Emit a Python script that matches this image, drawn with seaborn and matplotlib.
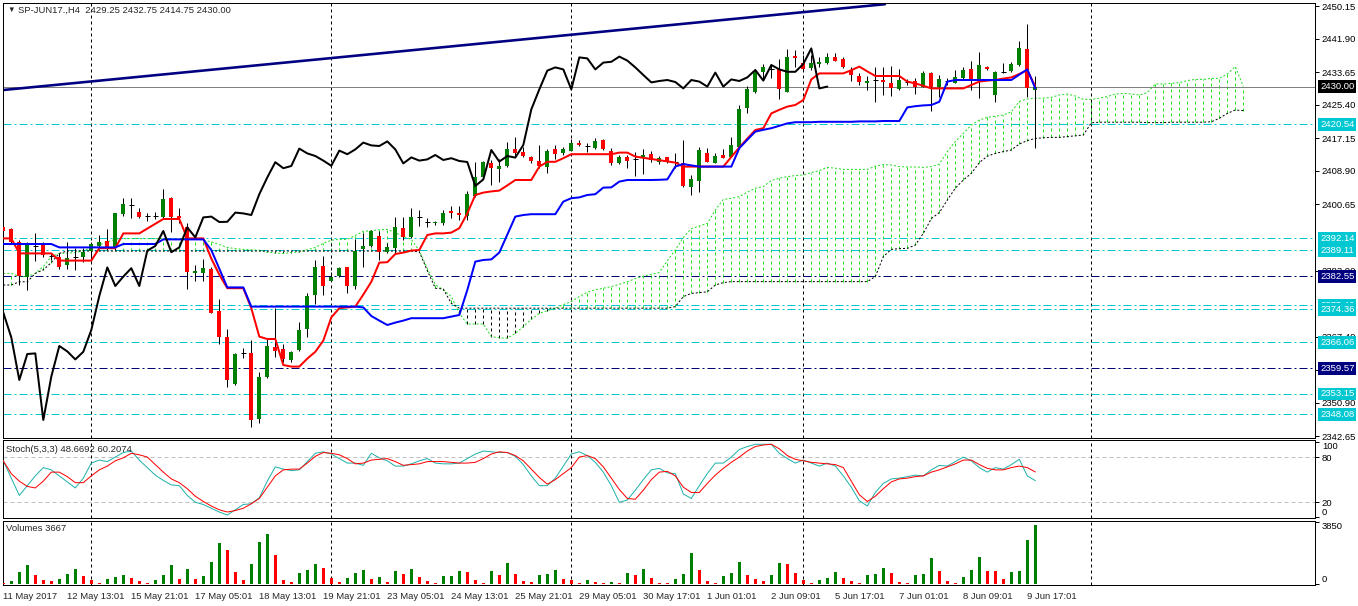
import numpy as np
import matplotlib
matplotlib.use("Agg")
import matplotlib.pyplot as plt
import seaborn as sns

sns.set_style("white")
plt.rcParams['font.family'] = ['Liberation Sans', 'DejaVu Sans']
plt.rcParams['font.size'] = 6.8

# ---- H4 candles, SP-JUN17 ----
opens = [2394.9, 2394.3, 2391.2, 2382.5, 2390.1, 2390.6, 2387.7, 2387.5, 2385.3, 2387.3,
         2387.5, 2388.8, 2390.2, 2391.4, 2389.6, 2398.1, 2400.3, 2398.7, 2397.65, 2397.7,
         2397.3, 2402.1, 2397.65, 2395.0, 2383.5, 2383.5, 2384.4, 2373.9, 2367.5, 2355.65,
         2363.3, 2363.5, 2346.8, 2357.3, 2364.8, 2364.3, 2361.65, 2364.15, 2369.3, 2377.9,
         2385.15, 2381.5, 2382.7, 2384.8, 2380.2, 2389.3, 2390.2, 2392.65, 2388.7, 2389.75,
         2394.6, 2392.5, 2397.5, 2396.15, 2395.8, 2396.0, 2398.8, 2398.5, 2397.65, 2402.65,
         2407.5, 2410.8, 2409.3, 2410.2, 2414.3, 2413.6, 2412.3, 2411.3, 2410.0, 2414.3,
         2413.3, 2414.0, 2415.8, 2415.15, 2414.7, 2416.6, 2414.0, 2411.0, 2412.5, 2411.8,
         2412.1, 2413.1, 2411.1, 2412.3, 2411.15, 2411.0, 2404.8, 2406.5, 2413.5, 2411.0,
         2412.9, 2412.5, 2415.0, 2424.55, 2428.75, 2433.7, 2434.3, 2434.3, 2428.75, 2437.65,
         2436.0, 2434.6, 2435.65, 2435.8, 2437.3, 2436.8, 2434.15, 2432.65, 2430.8, 2431.65,
         2431.65, 2431.0, 2429.3, 2431.25, 2431.5, 2430.0, 2433.3, 2430.0, 2431.4, 2431.0,
         2432.1, 2434.3, 2431.65, 2435.0, 2427.9, 2433.7, 2434.0, 2435.4, 2439.3, 2429.25]
highs = [2395.2, 2394.6, 2391.6, 2391.2, 2393.3, 2391.2, 2388.5, 2388.5, 2391.2, 2389.6,
         2389.7, 2391.2, 2392.9, 2394.3, 2398.5, 2402.1, 2402.1, 2399.6, 2398.3, 2398.7,
         2404.3, 2402.3, 2399.6, 2396.0, 2385.4, 2386.9, 2385.0, 2376.8, 2369.3, 2363.5,
         2364.6, 2366.65, 2358.7, 2366.8, 2374.7, 2365.65, 2364.0, 2371.25, 2378.5, 2386.65,
         2387.65, 2383.7, 2384.9, 2385.0, 2391.8, 2393.3, 2394.15, 2393.9, 2390.8, 2397.5,
         2397.5, 2399.6, 2399.15, 2397.1, 2396.4, 2399.15, 2400.15, 2400.15, 2404.0, 2411.2,
         2411.5, 2411.65, 2411.8, 2416.2, 2417.5, 2415.0, 2412.65, 2415.4, 2414.3, 2415.4,
         2414.8, 2416.8, 2416.6, 2415.8, 2417.05, 2416.8, 2414.6, 2412.9, 2412.9, 2413.7,
         2414.3, 2414.0, 2412.65, 2412.5, 2413.5, 2416.65, 2407.9, 2415.0, 2414.6, 2413.5,
         2414.3, 2417.3, 2425.4, 2430.15, 2434.3, 2435.65, 2435.65, 2436.8, 2439.3, 2439.15,
         2437.9, 2437.9, 2437.3, 2438.3, 2438.5, 2437.5, 2435.0, 2433.3, 2432.65, 2434.95,
         2434.95, 2435.15, 2434.3, 2432.0, 2432.1, 2434.0, 2433.75, 2432.9, 2432.1, 2434.15,
         2435.0, 2436.5, 2438.7, 2435.2, 2433.9, 2436.0, 2436.2, 2441.5, 2445.65, 2432.75]
lows = [2393.8, 2391.0, 2380.5, 2379.2, 2386.5, 2387.3, 2386.65, 2384.4, 2384.3, 2384.15,
        2386.2, 2386.5, 2389.6, 2389.15, 2389.15, 2397.65, 2397.1, 2397.2, 2396.4, 2397.0,
        2397.1, 2393.7, 2395.8, 2379.3, 2381.5, 2381.5, 2373.3, 2365.65, 2355.0, 2355.5,
        2362.1, 2344.8, 2346.0, 2357.1, 2362.5, 2361.2, 2361.2, 2364.0, 2367.5, 2375.65,
        2377.9, 2381.3, 2382.3, 2378.3, 2379.3, 2385.0, 2390.0, 2386.65, 2388.3, 2388.3,
        2391.65, 2392.1, 2395.15, 2395.0, 2395.4, 2395.4, 2397.1, 2396.65, 2396.65, 2402.4,
        2407.1, 2405.4, 2406.2, 2410.0, 2412.65, 2412.5, 2410.8, 2409.55, 2408.3, 2411.8,
        2412.9, 2413.8, 2415.1, 2413.7, 2414.5, 2414.1, 2410.4, 2410.65, 2409.55, 2407.65,
        2408.15, 2411.25, 2410.65, 2410.95, 2409.55, 2404.8, 2402.9, 2403.7, 2411.1, 2410.8,
        2412.1, 2412.3, 2414.8, 2423.3, 2428.5, 2431.65, 2432.1, 2426.8, 2428.6, 2435.0,
        2434.1, 2434.1, 2434.9, 2435.6, 2436.3, 2434.6, 2431.5, 2430.4, 2429.15, 2426.2,
        2427.9, 2427.65, 2429.15, 2430.5, 2428.15, 2429.8, 2424.0, 2427.5, 2430.4, 2430.8,
        2431.8, 2429.15, 2427.1, 2434.15, 2426.2, 2433.4, 2433.7, 2435.15, 2427.5, 2414.75]
closes = [2394.0, 2391.2, 2382.7, 2390.4, 2390.1, 2387.9, 2387.7, 2385.0, 2387.1, 2387.3,
          2388.7, 2390.6, 2391.2, 2389.6, 2398.3, 2400.65, 2400.3, 2397.3, 2397.65, 2397.7,
          2401.8, 2397.3, 2397.15, 2383.6, 2384.0, 2384.6, 2373.5, 2367.3, 2356.65, 2363.15,
          2363.3, 2346.65, 2357.5, 2365.15, 2363.8, 2361.8, 2363.7, 2369.15, 2377.65, 2384.8,
          2380.15, 2382.5, 2384.6, 2380.15, 2389.0, 2390.15, 2393.9, 2388.6, 2389.8, 2394.8,
          2392.3, 2397.3, 2397.5, 2396.15, 2396.2, 2398.5, 2398.3, 2397.9, 2403.1, 2407.3,
          2411.1, 2409.6, 2410.15, 2414.5, 2413.3, 2412.65, 2411.5, 2410.2, 2414.0, 2413.1,
          2414.3, 2416.0, 2415.3, 2415.15, 2416.3, 2414.3, 2410.8, 2412.3, 2411.5, 2411.8,
          2412.9, 2411.65, 2412.1, 2411.4, 2411.15, 2405.15, 2406.8, 2414.15, 2411.25, 2412.65,
          2412.25, 2415.4, 2424.3, 2429.3, 2434.0, 2434.8, 2434.3, 2429.3, 2437.3, 2437.05,
          2434.3, 2436.0, 2436.2, 2437.5, 2436.5, 2434.8, 2432.9, 2431.05, 2431.4, 2431.65,
          2431.15, 2429.55, 2431.65, 2431.25, 2430.0, 2433.5, 2430.0, 2431.8, 2431.4, 2432.3,
          2434.15, 2431.5, 2435.4, 2434.3, 2433.7, 2433.7, 2435.65, 2439.55, 2429.55, 2430.00]
volumes = [60, 170, 730, 1167, 542, 229, 167, 292, 604, 917,
           479, 229, 63, 292, 417, 542, 354, 167, 63, 229,
           542, 1167, 292, 917, 292, 479, 1355, 2542, 2105, 729,
           229, 1230, 2605, 3105, 1792, 229, 104, 667, 854, 1230,
           980, 354, 104, 354, 667, 854, 292, 417, 104, 792,
           604, 917, 417, 167, 42, 479, 490, 792, 730, 229,
           42, 792, 542, 1292, 604, 167, 104, 542, 604, 854,
           292, 229, 42, 229, 104, 42, 104, 42, 667, 542,
           917, 354, 42, 40, 292, 604, 1917, 854, 167, 42,
           479, 667, 1355, 542, 292, 167, 542, 1292, 1230, 667,
           229, 42, 229, 354, 729, 354, 167, 42, 542, 604,
           980, 667, 104, 20, 542, 604, 1605, 792, 167, 42,
           417, 854, 1667, 792, 780, 292, 729, 792, 2730, 3667]

# ---- Ichimoku lines ----
tenkan = [2392.05, 2392.05, 2388.3, 2388.3, 2388.3, 2388.3, 2388.3, 2386.5, 2386.5, 2386.5,
          2386.5, 2386.5, 2389.6, 2389.6, 2389.6, 2393.3, 2393.3, 2393.3, 2394.5, 2395.7,
          2396.9, 2396.9, 2396.9, 2392.05, 2392.05, 2392.05, 2387.0, 2383.0, 2379.6, 2379.6,
          2379.6, 2374.6, 2367.5, 2366.9, 2366.9, 2360.4, 2360.0, 2360.0, 2362.0, 2363.7,
          2366.5, 2372.3, 2374.6, 2374.8, 2375.0, 2378.0, 2381.2, 2386.0, 2386.1, 2388.15,
          2388.5, 2389.0, 2389.15, 2392.9, 2393.3, 2393.3, 2393.5, 2394.6, 2398.3, 2402.9,
          2403.5, 2403.8, 2404.0, 2405.3, 2406.65, 2406.65, 2406.65, 2410.0, 2411.2, 2411.2,
          2412.1, 2413.1, 2413.1, 2413.1, 2413.1, 2413.1, 2413.1, 2413.5, 2413.5, 2412.5,
          2412.2, 2411.9, 2411.6, 2411.3, 2411.0, 2410.0, 2410.0, 2410.0, 2410.0, 2410.0,
          2410.0, 2412.4, 2414.8, 2417.0, 2419.15, 2419.6, 2423.3, 2424.2, 2425.0, 2425.4,
          2426.65, 2431.8, 2433.3, 2433.3, 2433.3, 2433.3, 2434.1, 2435.0, 2433.8, 2432.65,
          2432.65, 2432.65, 2432.65, 2431.25, 2430.8, 2430.2, 2429.55, 2429.55, 2429.55, 2429.55,
          2429.55, 2430.4, 2431.25, 2431.5, 2431.65, 2432.0, 2432.3, 2433.15, 2434.15, 2430.0]
kijun = [2390.65, 2390.65, 2390.65, 2390.65, 2390.65, 2390.65, 2390.65, 2389.8, 2389.8, 2389.8,
         2389.8, 2389.8, 2389.8, 2389.8, 2389.8, 2390.65, 2390.65, 2390.65, 2390.65, 2390.65,
         2391.8, 2391.8, 2391.8, 2391.8, 2391.8, 2391.8, 2389.15, 2384.5, 2379.8, 2379.8,
         2379.8, 2375.0, 2375.0, 2375.0, 2375.0, 2375.0, 2375.0, 2375.0, 2375.0, 2375.0,
         2375.0, 2375.0, 2375.0, 2375.0, 2375.0, 2374.8, 2372.65, 2371.5, 2370.4, 2371.0,
         2371.5, 2372.1, 2372.1, 2372.1, 2372.1, 2372.1, 2372.5, 2372.9, 2379.15, 2386.25,
         2386.65, 2386.8, 2388.5, 2393.0, 2397.5, 2397.9, 2398.1, 2398.1, 2398.1, 2398.1,
         2401.25, 2402.1, 2402.3, 2402.9, 2403.1, 2404.75, 2404.8, 2406.25, 2406.65, 2406.65,
         2406.65, 2406.65, 2406.7, 2406.8, 2410.0, 2410.65, 2410.3, 2410.0, 2410.0, 2410.0,
         2410.0, 2410.0, 2414.6, 2416.7, 2418.75, 2419.2, 2419.6, 2420.2, 2420.8, 2421.1,
         2421.1, 2421.1, 2421.2, 2421.2, 2421.2, 2421.2, 2421.2, 2421.3, 2421.3, 2421.3,
         2421.4, 2421.4, 2421.4, 2424.8, 2425.1, 2425.3, 2425.4, 2426.2, 2431.25, 2431.65,
         2431.65, 2431.65, 2431.65, 2431.65, 2431.65, 2431.65, 2431.65, 2433.0, 2434.3, 2429.55]
senkou_a = [2383.3, 2383.3, 2382.5, 2382.5, 2383.3, 2385.0, 2387.5, 2388.3, 2388.4, 2388.5,
            2389.0, 2389.6, 2390.4, 2391.2, 2391.8, 2392.0, 2392.0, 2392.0, 2392.0, 2392.0,
            2392.0, 2391.9, 2391.9, 2391.9, 2392.0, 2391.6, 2391.2, 2390.5, 2389.8, 2389.5,
            2389.3, 2389.2, 2389.1, 2388.6, 2388.4, 2388.3, 2388.5, 2388.7, 2389.2, 2389.8,
            2390.8, 2391.6, 2391.8, 2391.8, 2392.8, 2393.8, 2394.0, 2394.2, 2394.3, 2393.5,
            2392.5, 2391.8, 2389.0, 2384.5, 2380.5, 2379.2, 2377.5, 2373.3, 2370.65, 2370.65,
            2370.65, 2367.5, 2367.2, 2367.1, 2368.3, 2370.0, 2371.8, 2373.3, 2374.0, 2374.6,
            2375.5, 2376.25, 2377.5, 2378.6, 2379.2, 2379.6, 2380.0, 2380.6, 2381.2, 2382.0,
            2382.6, 2383.1, 2383.5, 2386.5, 2389.15, 2392.3, 2394.5, 2395.15, 2395.8, 2399.15,
            2401.8, 2402.05, 2402.5, 2403.6, 2404.6, 2405.0, 2406.5, 2407.1, 2407.5, 2407.75,
            2407.9, 2408.5, 2409.0, 2409.8, 2409.6, 2409.3, 2409.3, 2409.3, 2409.3, 2410.1,
            2410.5, 2410.4, 2410.0, 2409.9, 2409.9, 2409.8, 2410.0, 2410.65, 2413.75, 2416.25,
            2418.3, 2420.4, 2421.65, 2422.3, 2422.6, 2422.9, 2423.7, 2426.3, 2426.9, 2427.1,
            2427.1, 2427.3, 2427.9, 2428.15, 2427.65, 2426.8, 2426.8, 2427.1, 2427.5, 2428.15,
            2428.3, 2428.15, 2427.9, 2428.5, 2430.65, 2430.65, 2430.8, 2431.0, 2431.5, 2431.8,
            2431.8, 2432.05, 2432.05, 2433.15, 2435.0, 2430.0]
senkou_b = [2380.4, 2380.4, 2381.2, 2381.2, 2383.3, 2384.2, 2386.0, 2388.3, 2388.9, 2388.9,
            2388.9, 2388.9, 2388.9, 2388.9, 2388.9, 2388.9, 2388.9, 2388.9, 2388.9, 2388.9,
            2388.9, 2388.9, 2388.9, 2388.9, 2388.9, 2388.9, 2388.9, 2388.9, 2388.9, 2388.9,
            2388.9, 2388.9, 2388.9, 2388.9, 2388.9, 2388.9, 2388.9, 2388.9, 2388.9, 2388.9,
            2388.9, 2388.9, 2388.9, 2388.9, 2388.9, 2388.9, 2388.9, 2388.9, 2388.9, 2388.9,
            2388.9, 2388.9, 2388.7, 2384.0, 2379.6, 2379.4, 2375.8, 2374.6, 2374.6, 2374.6,
            2374.6, 2374.6, 2374.6, 2374.6, 2374.6, 2374.6, 2374.6, 2374.6, 2374.6, 2374.6,
            2374.6, 2374.6, 2374.6, 2374.6, 2374.6, 2374.6, 2374.6, 2374.6, 2374.6, 2374.6,
            2374.6, 2374.6, 2374.6, 2374.6, 2375.0, 2377.5, 2378.3, 2378.5, 2378.7, 2380.4,
            2381.0, 2381.25, 2381.25, 2381.25, 2381.25, 2381.25, 2381.25, 2381.25, 2381.25, 2381.25,
            2381.25, 2381.25, 2381.25, 2381.25, 2381.25, 2381.25, 2381.25, 2381.25, 2381.25, 2382.5,
            2387.5, 2389.3, 2389.5, 2389.55, 2390.4, 2393.3, 2397.0, 2398.5, 2401.65, 2404.6,
            2406.65, 2408.3, 2411.0, 2412.6, 2413.3, 2413.75, 2414.15, 2415.65, 2416.5, 2417.05,
            2417.2, 2417.3, 2417.3, 2417.5, 2417.7, 2417.9, 2420.95, 2421.1, 2421.1, 2421.1,
            2421.1, 2421.1, 2421.1, 2421.0, 2421.0, 2421.0, 2421.1, 2421.1, 2421.1, 2421.1,
            2421.1, 2421.2, 2422.05, 2423.3, 2424.15, 2424.0]
chikou_shift = 26

# ---- Stochastic (5,3,3) ----
stoch_k = [75, 52, 29, 42, 55, 66, 63, 55, 47, 39, 52, 72, 76, 74, 80, 86, 88, 76, 66, 56,
           49, 43, 42, 29, 20, 17, 12, 7, 3, 10, 17, 18, 26, 48, 67, 64, 62, 63, 74, 85,
           87, 84, 78, 72, 72, 69, 85, 79, 75, 68, 68, 71, 75, 78, 72, 71, 71, 72, 78, 84,
           88, 87, 86, 86, 81, 70, 55, 42, 42, 52, 68, 84, 87, 82, 73, 60, 42, 20, 23, 36,
           50, 63, 65, 59, 58, 31, 25, 42, 58, 72, 72, 80, 90, 94, 97, 97, 97, 85, 78, 72,
           76, 72, 68, 72, 68, 55, 40, 22, 15, 33, 45, 51, 52, 54, 56, 55, 63, 69, 68, 74,
           80, 75, 66, 60, 66, 64, 70, 77, 55, 48.6692]
stoch_d = [75, 58, 48, 41, 39, 48, 60, 60, 54, 46, 46, 55, 63, 68, 75, 79, 85, 83, 80, 70,
           60, 51, 46, 38, 28, 21, 15, 10, 7, 9, 12, 18, 25, 40, 55, 63, 64, 64, 72, 81,
           86, 85, 83, 78, 71, 72, 76, 77, 78, 74, 69, 70, 71, 74, 74, 74, 73, 72, 72, 73,
           78, 84, 87, 86, 82, 75, 64, 53, 44, 50, 58, 66, 80, 82, 78, 67, 52, 37, 25, 24,
           36, 50, 60, 61, 55, 40, 33, 33, 45, 56, 65, 73, 80, 88, 94, 96, 97, 91, 82, 77,
           75, 73, 72, 71, 70, 66, 48, 30, 21, 28, 38, 47, 51, 52, 54, 55, 60, 63, 67, 71,
           76, 76, 70, 65, 63, 63, 66, 68, 66, 60.2074]

# ---- chart objects ----
trend_bars = [0, 110.2]
trend_prices = [2429.15, 2450.6]
cyan_levels = [2420.54, 2392.14, 2389.11, 2375.40, 2374.36, 2366.06, 2353.15, 2348.08]
navy_levels = [2382.55, 2359.57]
bid_price = 2430.00
separator_bars = [11, 41, 71, 100, 136]
price_ticks = [2450.15, 2441.90, 2433.65, 2425.40, 2417.15, 2408.90, 2400.65,
               2383.90, 2367.40, 2359.15, 2350.90, 2342.65]
date_ticks = [0, 8, 16, 24, 32, 40, 48, 56, 64, 72, 80, 88, 96, 104, 112, 120, 128]
date_labels = ['11 May 2017', '12 May 13:01', '15 May 21:01', '17 May 05:01', '18 May 13:01',
               '19 May 21:01', '23 May 05:01', '24 May 13:01', '25 May 21:01', '29 May 05:01',
               '30 May 17:01', '1 Jun 01:01', '2 Jun 09:01', '5 Jun 17:01', '7 Jun 01:01',
               '8 Jun 09:01', '9 Jun 17:01']

PX = 0.72  # one screen pixel in points
GREEN, RED, CYAN, NAVY, LIME = '#008000', '#FF0000', '#00C8D2', '#000080', '#22DD22'

W, H = 1358, 606
fig = plt.figure(figsize=(W / 100, H / 100), dpi=100)


def panel(x0, y0, x1, y1):
    return fig.add_axes([x0 / W, 1 - y1 / H, (x1 - x0) / W, (y1 - y0) / H])


ax = panel(2.5, 2.5, 1315, 438)
ax_st = panel(2.5, 440, 1315, 518)
ax_v = panel(2.5, 520.7, 1315, 585.3)

o, h, l, c = map(np.array, (opens, highs, lows, closes))
bars = np.arange(len(o))
sa, sb = np.array(senkou_a), np.array(senkou_b)
cloud_bars = np.arange(len(sa))

# cloud hatching + senkou lines
up = sa >= sb
ax.vlines(cloud_bars[up], sb[up], sa[up], color=LIME, lw=PX, linestyles=(0, (3, 3)), zorder=1)
ax.vlines(cloud_bars[~up], sa[~up], sb[~up], color='black', lw=PX, linestyles=(0, (3, 3)), zorder=1)
ax.plot(cloud_bars, sa, color=LIME, lw=PX, ls=(0, (2, 2)), zorder=2)
ax.plot(cloud_bars, sb, color='black', lw=PX, ls=(0, (2, 2)), zorder=2)

# levels
for p in cyan_levels:
    ax.axhline(p, color=CYAN, lw=PX, ls=(0, (8, 3, 2, 3)), zorder=1.5)
for p in navy_levels:
    ax.axhline(p, color=NAVY, lw=PX, ls=(0, (8, 3, 2, 3)), zorder=1.5)
ax.axhline(bid_price, color='#808080', lw=PX, zorder=1.5)

sns.lineplot(x=trend_bars, y=trend_prices, color=NAVY, lw=2.6 * PX, ax=ax, zorder=2)

# candles
ax.vlines(bars, l, h, color='black', lw=PX, zorder=3)
body = c != o
ax.bar(bars[body], np.abs(c - o)[body], bottom=np.minimum(o, c)[body], width=0.5,
       color=np.where(c > o, GREEN, RED)[body], linewidth=0, zorder=3.5)
ax.hlines(o[~body], bars[~body] - 0.3, bars[~body] + 0.3, color='black', lw=PX, zorder=3.5)

# ichimoku lines on top
sns.lineplot(x=bars, y=tenkan, color=RED, lw=2 * PX, ax=ax, zorder=4)
sns.lineplot(x=bars, y=kijun, color='#0000FF', lw=2 * PX, ax=ax, zorder=4)
sns.lineplot(x=bars[:-chikou_shift], y=c[chikou_shift:], color='black', lw=2 * PX, ax=ax, zorder=4)

# stochastic
for lvl in (80, 20):
    ax_st.axhline(lvl, color='#C0C0C0', lw=PX, ls=(0, (4, 3)), zorder=1)
sns.lineplot(x=bars, y=stoch_k, color='#20B2AA', lw=PX, ax=ax_st, zorder=3)
sns.lineplot(x=bars, y=stoch_d, color=RED, lw=PX, ax=ax_st, zorder=3)

# volumes
vol = np.array(volumes)
vcol = [RED] + [GREEN if vol[i] > vol[i - 1] else RED for i in range(1, len(vol))]
ax_v.bar(bars, vol, width=0.45, color=vcol, linewidth=0, zorder=3)

xlim = (-0.1, 163.96)
for a in (ax, ax_st, ax_v):
    a.set_xlim(*xlim)
    for b in separator_bars:
        a.axvline(b, color='black', lw=PX, ls=(0, (3, 3)), zorder=1)
    for s in a.spines.values():
        s.set_color('black')
        s.set_linewidth(PX)
    a.set_xlabel('')
    a.set_ylabel('')
    a.yaxis.tick_right()
    a.tick_params(axis='y', direction='out', length=3, width=PX, pad=2, labelsize=6.8, colors='black')

ax.set_ylim(2342.15, 2451.025)
ax_st.set_ylim(-0.93, 102.66)
ax_v.set_ylim(-100, 3936)

ax.set_xticks([])
ax_st.set_xticks([])
ax.set_yticks(price_ticks)
ax.set_yticklabels([f'{p:.2f}' for p in price_ticks])

ax_st.set_yticks([100, 80, 20, 0])
ax_st.set_yticklabels(['100', '80', '20', '0'])
tl = ax_st.get_yticklabels()
tl[0].set_va('top')
tl[3].set_va('bottom')

ax_v.set_yticks([3850, 0])
ax_v.set_yticklabels(['3850', '0'])
tl = ax_v.get_yticklabels()
tl[0].set_va('top')
tl[1].set_va('bottom')

ax_v.set_xticks(date_ticks)
ax_v.set_xticklabels(date_labels, ha='left')
ax_v.tick_params(axis='x', direction='out', length=4, width=PX, pad=1, labelsize=6.8)


def level_label(price, face):
    ax.annotate(f'{price:.2f}', xy=(1, price), xycoords=('axes fraction', 'data'),
                xytext=(5, 0), textcoords='offset pixels', ha='left', va='center',
                color='white', fontsize=6.8, zorder=10, annotation_clip=False,
                bbox=dict(boxstyle='square,pad=0.2', fc=face, ec='none'))


levels = sorted([(p, CYAN) for p in cyan_levels] + [(p, NAVY) for p in navy_levels], reverse=True)
for p, col in levels:
    level_label(p, col)
level_label(bid_price, 'black')

# panel titles
ax.annotate('\u25bc', xy=(0, 1), xycoords='axes fraction', xytext=(5, -8),
            textcoords='offset pixels', fontsize=5.5, va='center', ha='left')
ax.annotate(f'SP-JUN17.,H4  {o[-1]:.2f} {h[-1]:.2f} {l[-1]:.2f} {c[-1]:.2f}', xy=(0, 1),
            xycoords='axes fraction', xytext=(16, -8), textcoords='offset pixels',
            fontsize=6.8, va='center', ha='left')
ax_st.annotate(f'Stoch(5,3,3) {stoch_k[-1]:.4f} {stoch_d[-1]:.4f}', xy=(0, 1),
               xycoords='axes fraction', xytext=(4, -9), textcoords='offset pixels',
               fontsize=6.8, va='center', ha='left')
ax_v.annotate(f'Volumes {volumes[-1]}', xy=(0, 1), xycoords='axes fraction', xytext=(4, -8),
              textcoords='offset pixels', fontsize=6.8, va='center', ha='left')

fig.savefig('out.png', dpi=100)
plt.close(fig)
